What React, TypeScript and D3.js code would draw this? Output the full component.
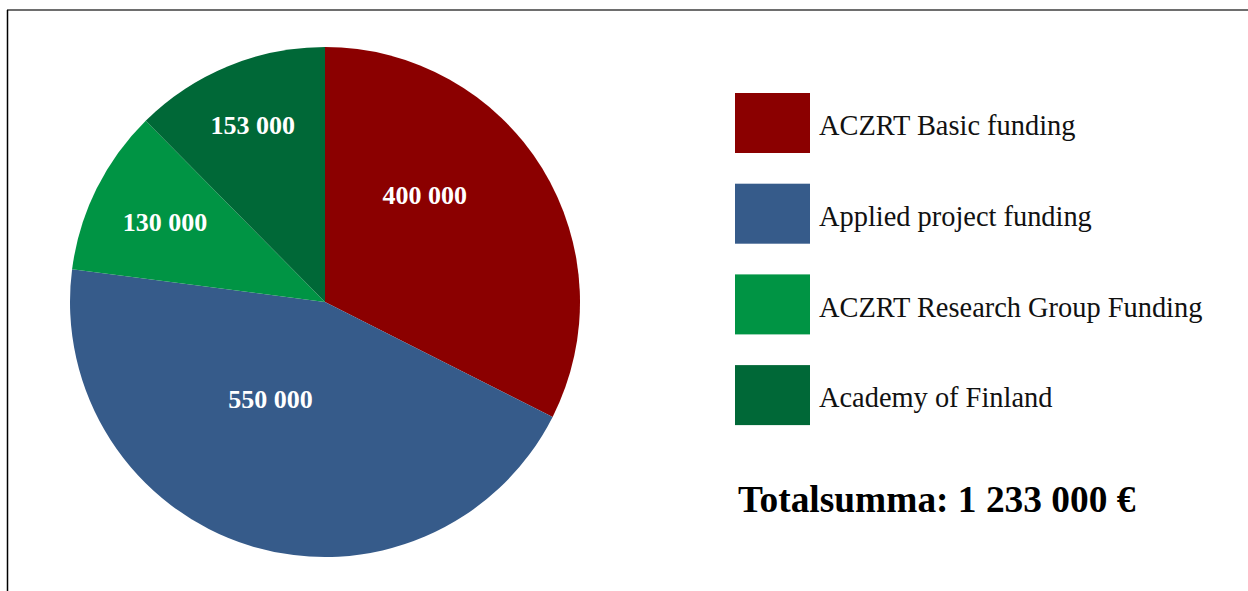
import React from "react";
import * as d3 from "d3";

const categories = [
  "ACZRT Basic funding",
  "Applied project funding",
  "ACZRT Research Group Funding",
  "Academy of Finland",
];
const values = [400000, 550000, 130000, 153000];
const labels = ["400 000", "550 000", "130 000", "153 000"];
const colors = ["#8B0000", "#365B8A", "#009444", "#006837"];
const totalText = "Totalsumma: 1 233 000 €";

// label placement style (radius fraction, angle shift in degrees)
const labelRadiusFrac = [0.57, 0.44, 0.7, 0.745];
const labelAngleShift = [-15, 12, 0, 0];

export default function App() {
  const W = 1248;
  const H = 591;
  const cx = 325;
  const cy = 302;
  const R = 255;

  const pie = d3.pie<number>().sort(null).value((d) => d)(values);
  const arc = d3.arc<d3.PieArcDatum<number>>().innerRadius(0).outerRadius(R);

  const legendY = d3.scaleLinear().domain([0, 1]).range([93, 183.7]);
  const boxH = 60;

  return (
    <svg
      width={W}
      height={H}
      style={{ position: "absolute", left: 0, top: 0 }}
    >
      <rect x={0} y={0} width={W} height={H} fill="#fff" />
      <line x1={7} x2={W} y1={10} y2={10} stroke="#6e6e6e" strokeWidth={2} />
      <line x1={7.5} x2={7.5} y1={10} y2={H} stroke="#000" strokeWidth={1.5} />
      <g transform={`translate(${cx},${cy})`}>
        {pie.map((p, i) => (
          <path key={i} d={arc(p) || ""} fill={colors[i]} />
        ))}
        {pie.map((p, i) => {
          const mid = (p.startAngle + p.endAngle) / 2 + (labelAngleShift[i] * Math.PI) / 180;
          const r = R * labelRadiusFrac[i];
          const x = Math.sin(mid) * r;
          const y = -Math.cos(mid) * r;
          return (
            <text
              key={i}
              x={x}
              y={y}
              dy="0.3em"
              textAnchor="middle"
              fill="#fff"
              fontFamily="'Liberation Serif', 'Times New Roman', serif"
              fontWeight="bold"
              fontSize={26}
            >
              {labels[i]}
            </text>
          );
        })}
      </g>
      {categories.map((c, i) => {
        const y = legendY(i);
        return (
          <g key={c}>
            <rect x={735} y={y} width={75} height={boxH} fill={colors[i]} />
            <text
              x={819}
              y={y + boxH / 2}
              dy="0.43em"
              fontFamily="'Liberation Serif', 'Times New Roman', serif"
              fontSize={28.4}
              fill="#111"
            >
              {c}
            </text>
          </g>
        );
      })}
      <text
        x={738}
        y={512}
        fontFamily="'Liberation Serif', 'Times New Roman', serif"
        fontWeight="bold"
        fontSize={37.4}
        fill="#000"
      >
        {totalText}
      </text>
    </svg>
  );
}
